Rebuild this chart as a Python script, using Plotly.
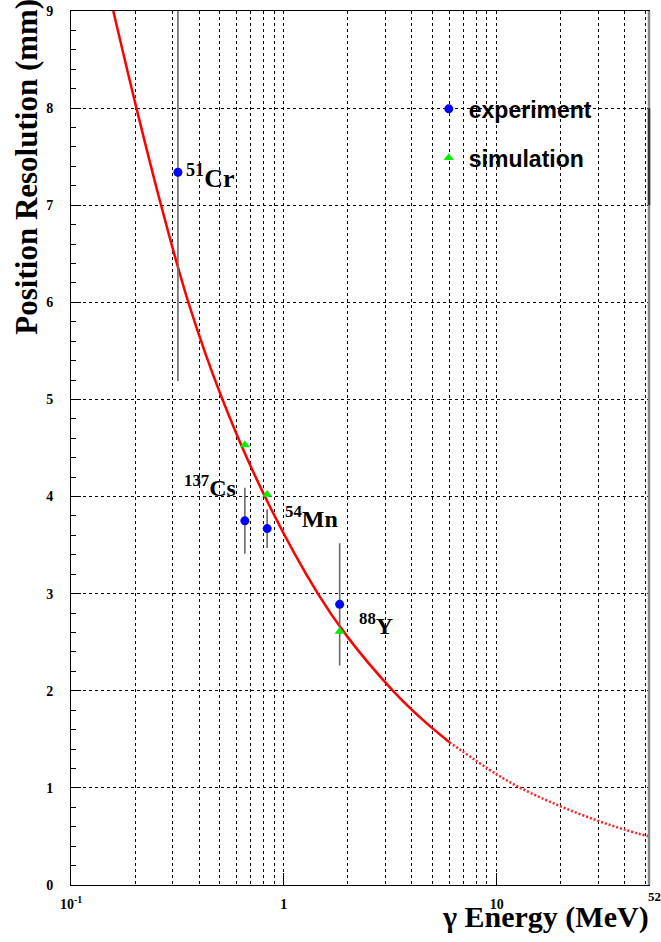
import math
import plotly.graph_objects as go

# ---- data ----
curve_E_solid = [0.158, 0.203, 0.265, 0.356, 0.515, 0.815, 1.445, 2.0, 3.26, 4.5, 6.0]
curve_R_solid = [9.0, 8.0, 7.0, 6.0, 5.0, 4.0, 3.0, 2.55, 2.0, 1.70, 1.47]
curve_E_dot = [6.0, 10.0, 13.2, 20.0, 30.0, 40.0, 52.0]
curve_R_dot = [1.47, 1.14, 0.99, 0.81, 0.66, 0.57, 0.50]

exp_E = [0.318, 0.656, 0.835, 1.83]
exp_R = [7.34, 3.75, 3.67, 2.89]
exp_err = [2.15, 0.34, 0.20, 0.63]

sim_E = [0.656, 0.835, 1.83]
sim_R = [4.53, 4.02, 2.61]

iso_labels = ["<sup>51</sup>Cr", "<sup>137</sup>Cs", "<sup>54</sup>Mn", "<sup>88</sup>Y"]

x_major = [0.1, 1, 10]
x_major_text = ["10<sup>-1</sup>", "1", "10"]
x_minor = [0.2, 0.3, 0.4, 0.5, 0.6, 0.7, 0.8, 0.9,
           2, 3, 4, 5, 6, 7, 8, 9, 20, 30, 40, 50]

# ---- styles ----
SERIF = "Liberation Serif"
SANS = "Liberation Sans"
label_style = [  # xanchor, xshift, yshift, size
    ("left", 6, -4, 26),
    ("right", -7, 35, 24),
    ("left", 16, 12, 24),
    ("left", 17, -20, 24),
]

fig = go.Figure()

fig.add_trace(go.Scatter(
    x=curve_E_solid, y=curve_R_solid, mode="lines",
    line=dict(color="#ff0000", width=2.5, shape="spline"),
    showlegend=False, hoverinfo="skip"))
fig.add_trace(go.Scatter(
    x=curve_E_dot, y=curve_R_dot, mode="lines",
    line=dict(color="#ff2020", width=2.5, shape="spline", dash="2px,2px"),
    showlegend=False, hoverinfo="skip"))

fig.add_trace(go.Scatter(
    x=exp_E, y=exp_R, mode="markers", name="experiment",
    marker=dict(color="#0000ff", size=9, symbol="circle"),
    error_y=dict(type="data", array=exp_err, color="#6a6a6a",
                 thickness=1.6, width=0),
    legend="legend"))
fig.add_trace(go.Scatter(
    x=sim_E, y=sim_R, mode="markers", name="simulation",
    marker=dict(color="#00ee00", size=9, symbol="triangle-up"),
    legend="legend2"))

annotations = []
for e, r, txt, st in zip(exp_E, exp_R, iso_labels, label_style):
    annotations.append(dict(
        x=math.log10(e), y=r, xref="x", yref="y", text=txt, showarrow=False,
        xanchor=st[0], yanchor="middle", xshift=st[1], yshift=st[2],
        font=dict(family=SERIF, size=st[3], color="black", weight="bold")))

annotations.append(dict(
    x=1.004, y=-0.037, xref="paper", yref="paper", text="γ Energy (MeV)",
    showarrow=False, xanchor="right", yanchor="middle",
    font=dict(family=SERIF, size=30, color="black", weight="bold")))
annotations.append(dict(
    x=1.0, y=-0.013, xref="paper", yref="paper", text="52",
    showarrow=False, xanchor="left", yanchor="middle", xshift=-3,
    font=dict(family=SERIF, size=13, color="black", weight="bold")))
annotations.append(dict(
    x=-0.0760, y=0.822, xref="paper", yref="paper",
    text="Position Resolution (mm)", textangle=-90,
    showarrow=False, xanchor="center", yanchor="middle",
    font=dict(family=SERIF, size=31, color="black", weight="bold")))

tickfont = dict(family=SERIF, size=14, color="black", weight="bold")
legfont = dict(family=SANS, size=23, color="black", weight="bold")

fig.update_layout(
    width=661, height=942,
    margin=dict(l=71, r=12, t=11, b=57, autoexpand=False),
    plot_bgcolor="white", paper_bgcolor="white",
    annotations=annotations,
    xaxis=dict(
        type="log", range=[-1, math.log10(52)], automargin=False,
        tickmode="array", tickvals=x_major, ticktext=x_major_text,
        ticks="inside", ticklen=12, tickcolor="black", tickwidth=1,
        showgrid=True, gridcolor="black", griddash="dot", gridwidth=1,
        minor=dict(tickmode="array", tickvals=x_minor, showgrid=True,
                   gridcolor="black", griddash="dot", gridwidth=1, ticks=""),
        showline=True, mirror=True, linecolor="black", linewidth=1,
        zeroline=False, tickfont=tickfont, ticklabelstandoff=6),
    yaxis=dict(
        range=[0, 9], tickmode="linear", tick0=0, dtick=1, automargin=False,
        ticks="inside", ticklen=10, tickcolor="black", tickwidth=1,
        showgrid=True, gridcolor="black", griddash="dot", gridwidth=1,
        minor=dict(dtick=0.2, ticks="inside", ticklen=5, tickcolor="black",
                   showgrid=False),
        showline=True, mirror=True, linecolor="black", linewidth=1,
        zeroline=False, tickfont=tickfont, ticklabelstandoff=14),
    legend=dict(x=0.619, y=0.888, xanchor="left", yanchor="middle",
                bgcolor="rgba(0,0,0,0)", font=legfont),
    legend2=dict(x=0.619, y=0.832, xanchor="left", yanchor="middle",
                 bgcolor="rgba(0,0,0,0)", font=legfont),
    shapes=[
        dict(type="line", xref="paper", yref="paper", x0=1, x1=1, y0=0, y1=1,
             line=dict(color="#888888", width=2.5)),
        dict(type="line", xref="paper", yref="y", x0=1, x1=1, y0=7, y1=8,
             line=dict(color="#333333", width=2.5)),
    ],
)

fig.write_html("out.html")
